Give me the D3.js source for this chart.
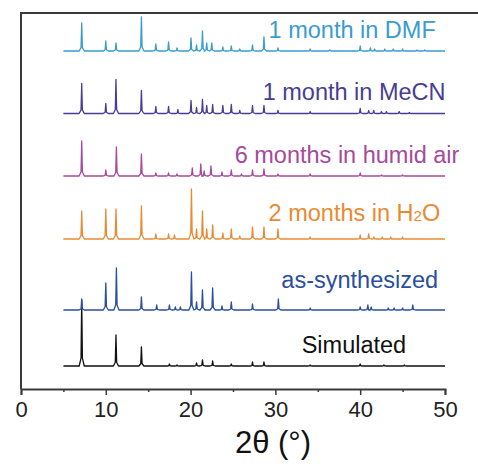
<!DOCTYPE html>
<html>
<head>
<meta charset="utf-8">
<script src="https://d3js.org/d3.v7.min.js"></script>
<style>
  body { margin: 0; background: #fff; }
  text { font-family: "Liberation Sans", Arial, sans-serif; }
</style>
</head>
<body>
<script>
// pattern names, colours and vertical offsets (stack order bottom -> top)
var names   = ["Simulated", "as-synthesized", "2 months in H2O", "6 months in humid air", "1 month in MeCN", "1 month in DMF"];
var colors  = ["#111111", "#2a4f9e", "#e98a32", "#a54a9c", "#4a3d93", "#3a9ccf"];
var offsets = [23, 79, 150, 213, 275.5, 338];

// peak lists [2theta, height]
var simPeaks = [[7.16,66],[11.2,31],[14.2,19],[17.5,2],[18.4,1],[20.7,3],[21.4,6],[22.6,5],[24.8,2],[27.3,4],[28.65,4],[34.1,1],[40.0,2],[42.8,1],[45.2,1]];
var asPeaks  = [[7.16,11],[10.0,27],[11.25,42],[14.2,13],[16.0,5],[17.5,5],[18.2,3],[18.8,3],[20.1,38],[20.7,8],[21.4,20],[22.6,22],[23.7,4],[24.8,8],[27.3,6],[30.35,11],[34.1,2],[40.0,3],[40.9,5],[41.3,3],[43.3,2],[44.0,2],[45.0,2],[46.2,5]];
var h2oPeaks = [[7.16,28],[10.0,30],[11.2,30],[14.2,33],[15.9,5],[17.4,5],[18.1,4],[20.1,50],[20.7,10],[21.4,28],[21.9,10],[22.6,14],[23.8,6],[24.8,10],[25.8,3],[27.3,12],[28.65,12],[30.3,10],[34.1,2],[40.0,4],[41.0,5],[41.6,2],[42.6,2],[43.6,2],[45.0,2]];
var airPeaks = [[7.16,35],[10.0,6],[11.25,29],[14.2,22],[15.9,3],[17.4,3],[18.4,2],[20.2,8],[21.2,12],[21.6,5],[22.4,10],[23.7,4],[24.8,6],[26.0,2],[27.3,6],[28.65,7],[30.3,2],[34.1,2],[40.0,3],[42.5,1],[45.0,1]];
var mecnPeaks = [[7.16,30],[10.0,10],[11.2,34],[14.2,23],[15.9,7],[17.4,7],[18.5,4],[20.05,13],[20.7,6],[21.4,14],[21.9,8],[22.6,9],[23.8,8],[24.8,9],[25.8,3],[27.3,8],[28.65,8],[30.3,3],[34.1,2],[40.0,5],[41.0,3],[41.6,3],[42.5,2],[43.1,2],[44.6,2],[45.8,1]];
var dmfPeaks = [[7.16,28],[10.0,10],[11.2,8],[14.2,34],[15.9,7],[17.4,9],[18.4,3],[20.05,13],[20.7,6],[21.4,20],[21.9,8],[22.5,8],[23.8,4],[24.8,5],[25.8,2],[27.3,6],[28.65,14],[30.3,3],[34.1,2],[36.4,1],[40.0,5],[41.2,3],[41.7,2],[42.9,2],[43.9,2],[45.0,2],[46.7,1],[47.6,1]];
var peakSets = [simPeaks, asPeaks, h2oPeaks, airPeaks, mecnPeaks, dmfPeaks];

// label anchors [2theta, intensity] for the text
var labelPos = [[33.1,-13], [30.7,-22], [29.2,-18], [25.2,-13], [28.5,-13.5], [29.2,-13]];

var xTicks = [0, 10, 20, 30, 40, 50];
var xMinor = [5, 15, 25, 35, 45];

var W = 478, H = 468;
var svg = d3.select("body").append("svg").attr("width", W).attr("height", H);

var x = d3.scaleLinear().domain([0, 50]).range([21, 445]);
var y = d3.scaleLinear().domain([0, 376]).range([389, 13]);

// frame (left, top, bottom)
svg.append("path")
  .attr("d", "M" + x(0) + "," + y(0) + "V" + y(376) + "H" + W)
  .attr("fill", "none").attr("stroke", "#3a3a3a").attr("stroke-width", 2);

var line = d3.line().x(function(d) { return x(d[0]); }).y(function(d) { return d[1]; });

peakSets.forEach(function(peaks, i) {
  var off = offsets[i];
  var pts = [[5, y(off)]];
  peaks.forEach(function(p) {
    pts.push([p[0] - 0.3, y(off)]);
    pts.push([p[0] - 0.08, y(off + p[1] * 0.12)]);
    pts.push([p[0], y(off + p[1])]);
    pts.push([p[0] + 0.08, y(off + p[1] * 0.12)]);
    pts.push([p[0] + 0.3, y(off)]);
  });
  pts.push([50, y(off)]);
  svg.append("path")
    .attr("d", line(pts))
    .attr("fill", "none")
    .attr("stroke", colors[i])
    .attr("stroke-width", 1.3)
    .attr("stroke-linejoin", "round");
});

// labels
names.forEach(function(n, i) {
  var t = svg.append("text")
    .attr("x", x(labelPos[i][0]))
    .attr("y", y(offsets[i] - labelPos[i][1]))
    .attr("font-size", 23.5)
    .attr("fill", colors[i] === "#111111" ? "#111" : colors[i]);
  if (n.indexOf("H2O") >= 0) {
    t.append("tspan").text("2 months in H");
    t.append("tspan").attr("font-size", 15).text("2");
    t.append("tspan").text("O");
  } else {
    t.text(n);
  }
});

// x axis
var gx = svg.append("g").attr("transform", "translate(0," + y(0) + ")");
gx.call(d3.axisBottom(x).tickValues(xTicks).tickSize(6).tickPadding(6).tickFormat(d3.format("d")));
gx.select(".domain").attr("stroke", "#3a3a3a").attr("stroke-width", 2);
gx.selectAll(".tick line").attr("stroke", "#3a3a3a").attr("stroke-width", 1.5);
gx.selectAll(".tick text").attr("font-size", 22).attr("fill", "#222")
  .attr("font-family", "'Liberation Sans', Arial, sans-serif");

var gm = svg.append("g").attr("transform", "translate(0," + y(0) + ")");
gm.call(d3.axisBottom(x).tickValues(xMinor).tickSize(3).tickFormat(""));
gm.select(".domain").remove();
gm.selectAll(".tick line").attr("stroke", "#3a3a3a").attr("stroke-width", 1.5);

svg.append("text")
  .attr("x", 273).attr("y", 453)
  .attr("text-anchor", "middle")
  .attr("font-size", 31)
  .attr("fill", "#111")
  .text("2θ (°)");
</script>
</body>
</html>
